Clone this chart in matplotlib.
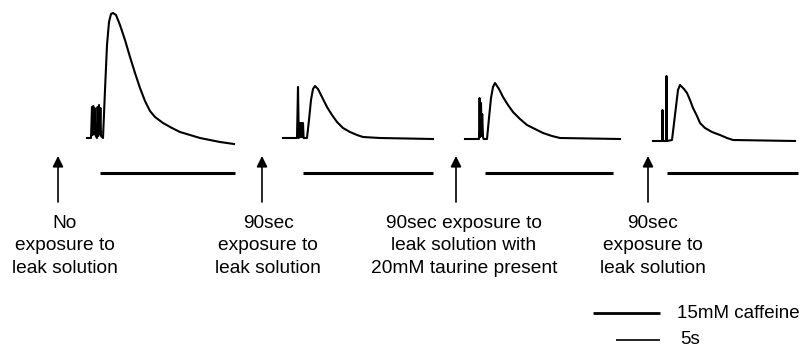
import numpy as np
import matplotlib.pyplot as plt

plt.rcParams['font.family'] = ['Liberation Sans', 'DejaVu Sans']

# fluorescence traces: time offset from trace start, signal above baseline (a.u.)
t1 = [0, 4, 5, 5.6, 6.2, 7, 7.6, 8.4, 10, 10.6, 11.2, 12, 12.6, 13.4, 14, 16,
      18, 20, 22, 24, 26, 29, 33, 38, 43, 48, 53, 58, 63, 68, 76, 85, 93, 103,
      113, 123, 133, 147]
v1 = [0, 0, 31, 3, 32, 4, 30, 3, 0, 31, 2, 33, 4, 30, 2, 0,
      48, 93, 116, 124, 125, 123, 113, 98, 81, 65, 50, 37, 27, 21, 15, 10, 6, 3,
      0, -2, -4, -6]

t2 = [0, 14, 15, 15.8, 16.4, 17, 17.6, 18.2, 18.8, 19.4, 20, 20.6, 24, 26, 28,
      30, 32, 35, 39, 44, 49, 54, 60, 67, 74, 80, 97, 150]
v2 = [0, 0, 51, 0, 15, 1, 15, 1, 15, 1, 15, 0, 0, 18, 38,
      49, 52, 49, 41, 31, 23, 16, 10, 6, 3, 1, 0, -1]

t3 = [0, 14, 14.6, 15.2, 16, 16.6, 17.2, 18, 18.6, 22, 24, 26, 28, 30, 34, 38,
      43, 48, 55, 62, 70, 78, 87, 95, 155]
v3 = [0, 0, 41, 2, 36, 3, 25, 2, 0, 0, 21, 41, 52, 56, 50, 42,
      34, 27, 20, 14, 10, 6, 3, 1, 0]

t4 = [0, 9, 9.5, 10, 13, 13.5, 14, 19, 22, 25, 27, 31, 34, 37, 40, 44, 47, 52,
      59, 67, 74, 80, 142]
v4 = [0, 0, 31, 0, 0, 65, 0, 1, 26, 51, 56, 52, 48, 41, 33, 25, 18, 13,
      9, 6, 3, 1, 0]

traces = [(t1, v1), (t2, v2), (t3, v3), (t4, v4)]
trace_start = [87, 283, 465, 653]
trace_base = [138, 138, 139, 141]

# caffeine application bars (start, end)
caf_start = [100, 303, 485, 667]
caf_end = [235, 433, 613, 798]

labels = ['No\nexposure to\nleak solution',
          '90sec\nexposure to\nleak solution',
          '90sec exposure to\nleak solution with\n20mM taurine present',
          '90sec\nexposure to\nleak solution']
arrow_x = [58, 262, 456, 648]
label_x = [65, 268, 464, 653]

fig = plt.figure(figsize=(8, 3.52), dpi=100)
ax = fig.add_axes([0, 0, 1, 1])
ax.set_xlim(0, 800)
ax.set_ylim(352, 0)
ax.axis('off')

for (t, v), x0, b in zip(traces, trace_start, trace_base):
    ax.plot(x0 + np.array(t), b - np.array(v), color='black', lw=1.5,
            solid_joinstyle='round')

for s, e in zip(caf_start, caf_end):
    ax.plot([s, e], [173, 173], color='black', lw=2.2, solid_capstyle='butt')

for ax_x, lx, lab in zip(arrow_x, label_x, labels):
    ax.annotate('', xy=(ax_x, 156), xytext=(ax_x, 202),
                arrowprops=dict(arrowstyle='-|>', color='black', lw=1.2,
                                mutation_scale=16, shrinkA=0, shrinkB=0))
    ax.text(lx, 246, lab, ha='center', va='center', fontsize=13.8,
            multialignment='center', linespacing=1.4)

# scale / legend
ax.plot([593, 660], [313, 313], color='black', lw=2.0, solid_capstyle='butt')
ax.text(677, 313, '15mM caffeine', va='center', ha='left', fontsize=13.5)
ax.plot([616, 660], [340, 340], color='black', lw=1.2, solid_capstyle='butt')
ax.text(680, 340, '5s', va='center', ha='left', fontsize=13.5)

fig.savefig('out.png', dpi=100)
